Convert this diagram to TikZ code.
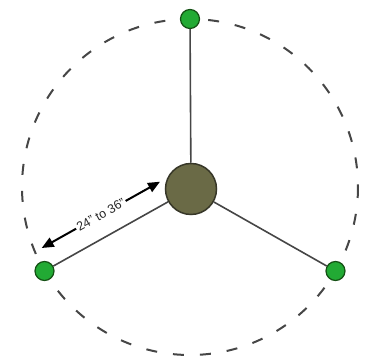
\documentclass[tikz,border=0pt]{standalone}
\usepackage{fontspec}
\setmainfont{Liberation Sans}
\usetikzlibrary{arrows.meta,calc}
\definecolor{dotgreen}{RGB}{34,170,52}
\definecolor{dotedge}{RGB}{20,80,20}
\definecolor{hubfill}{RGB}{106,106,70}
\definecolor{hubedge}{RGB}{55,55,40}
\definecolor{linegray}{RGB}{70,70,70}
\tikzset{
  rim/.style={draw=linegray, line width=2pt, dash pattern=on 11pt off 16pt},
  spoke/.style={draw=linegray, line width=1.6pt},
  hub/.style={circle, draw=hubedge, line width=1.5pt, fill=hubfill, minimum size=51pt, inner sep=0pt},
  tip/.style={circle, draw=dotedge, line width=1.2pt, fill=dotgreen, minimum size=19pt, inner sep=0pt},
  dim/.style={draw=black, line width=2pt, {Triangle[length=12pt,width=10pt]}-{Triangle[length=12pt,width=10pt]}},
  dimlabel/.style={fill=white, inner sep=1.5pt, text=black!85, font=\fontsize{12.5}{12.5}\selectfont, sloped}
}
\begin{document}
\begin{tikzpicture}[x=1pt,y=-1pt]
\useasboundingbox (0,0) rectangle (365,358);
\coordinate (c) at (190,187);
\draw[rim] (c) circle (168);
\node[hub] (h) at (191,189) {};
\node[tip] (t1) at ($(c)+(0,-168)$) {};
\node[tip] (t2) at ($(c)+(-145.5,84)$) {};
\node[tip] (t3) at ($(c)+(145.5,84)$) {};
\draw[spoke] (h) -- (t1);
\draw[spoke] (h) -- (t2);
\draw[spoke] (h) -- (t3);
\coordinate (a1) at (41.7,248);
\coordinate (a2) at (160,181.7);
\draw[dim] (a1) -- node[dimlabel] {24” to 36”} (a2);
\end{tikzpicture}
\end{document}
